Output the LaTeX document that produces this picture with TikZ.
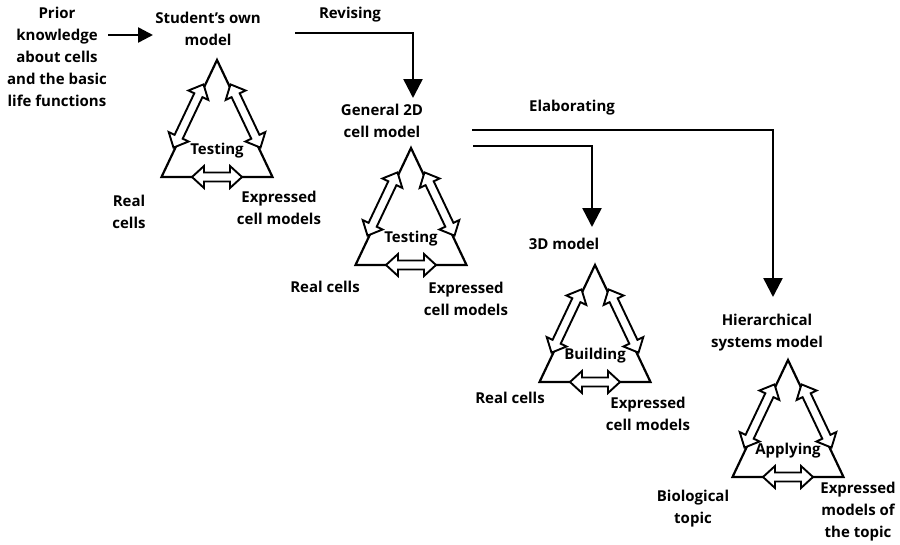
\documentclass[tikz,border=0pt]{standalone}
\usepackage{fontspec}
\setmainfont{Open Sans}
\usetikzlibrary{arrows.meta}
\tikzset{
  lbl/.style={font=\bfseries\fontsize{15}{22}\selectfont, align=center, inner sep=0pt},
  tri/.style={line width=2.2pt, line join=miter},
  conn/.style={line width=2.5pt},
  hollow/.style={line width=1.9pt, fill=white, line join=miter},
  bighead/.style={-{Triangle[length=19pt,width=19pt]}},
}
\newcommand\dblarrow[4]{%
  \begin{scope}[shift={(#1,#2)},rotate=#3]
    \filldraw[hollow] ({-#4/2},0) -- ({-#4/2+12},11) -- ({-#4/2+12},4.5) -- ({#4/2-12},4.5)
      -- ({#4/2-12},11) -- ({#4/2},0) -- ({#4/2-12},-11) -- ({#4/2-12},-4.5)
      -- ({-#4/2+12},-4.5) -- ({-#4/2+12},-11) -- cycle;
  \end{scope}}
\newcommand\cyclemodel[4]{%
  \coordinate (#1-top) at (#2,#3);
  \coordinate (#1-l) at ({#2-55.5},{#3+117});
  \coordinate (#1-r) at ({#2+55.5},{#3+117});
  \draw[tri] (#1-top) -- (#1-l) -- (#1-r) -- cycle;
  \dblarrow{#2-28.5}{#3+56}{64.6}{70}
  \dblarrow{#2+28.5}{#3+56}{-64.6}{70}
  \dblarrow{#2}{#3+117}{0}{50}
  \node[lbl] (#1-lab) at (#2,{#3+91}) {#4};
}
\begin{document}
\begin{tikzpicture}[x=1pt,y=-1pt]
\path[use as bounding box] (0,0) rectangle (900,544);

% models
\cyclemodel{ta}{217}{60}{Testing}
\cyclemodel{tb}{411}{148}{Testing}
\cyclemodel{tc}{595}{265}{Building}
\cyclemodel{td}{788}{360}{Applying}

% text nodes
\node[lbl] (prior) at (57,57) {Prior\\knowledge\\about cells\\and the basic\\life functions};
\node[lbl] (student) at (208,29) {Student’s own\\model};
\node[lbl] (revising) at (350,15) {Revising};
\node[lbl] (general) at (382,121) {General 2D\\cell model};
\node[lbl] (elab) at (572,108) {Elaborating};
\node[lbl] (threed) at (564,244) {3D model};
\node[lbl] (hier) at (767,333) {Hierarchical\\systems model};

\node[lbl] (ta-real) at (129,212) {Real\\cells};
\node[lbl] (ta-expr) at (279,208) {Expressed\\cell models};
\node[lbl] (tb-real) at (325,287) {Real cells};
\node[lbl] (tb-expr) at (466,299) {Expressed\\cell models};
\node[lbl] (tc-real) at (510,398) {Real cells};
\node[lbl] (tc-expr) at (648,414) {Expressed\\cell models};
\node[lbl] (td-bio) at (693,509) {Biological\\topic};
\node[lbl] (td-expr) at (858,512) {Expressed\\models of\\the topic};

% connector end points
\coordinate (p1) at (108,35);
\coordinate (p2) at (153,35);
\coordinate (r1) at (295,33);
\coordinate (r2) at (413,98);
\coordinate (e1) at (472,130);
\coordinate (e2) at (773,297);
\coordinate (f1) at (473,146);
\coordinate (f2) at (592,227);

\draw[conn,-{Triangle[length=15pt,width=15pt]}] (p1) -- (p2);
\draw[conn,bighead] (r1) -| (r2);
\draw[conn,bighead] (e1) -| (e2);
\draw[conn,bighead] (f1) -| (f2);
\end{tikzpicture}
\end{document}
